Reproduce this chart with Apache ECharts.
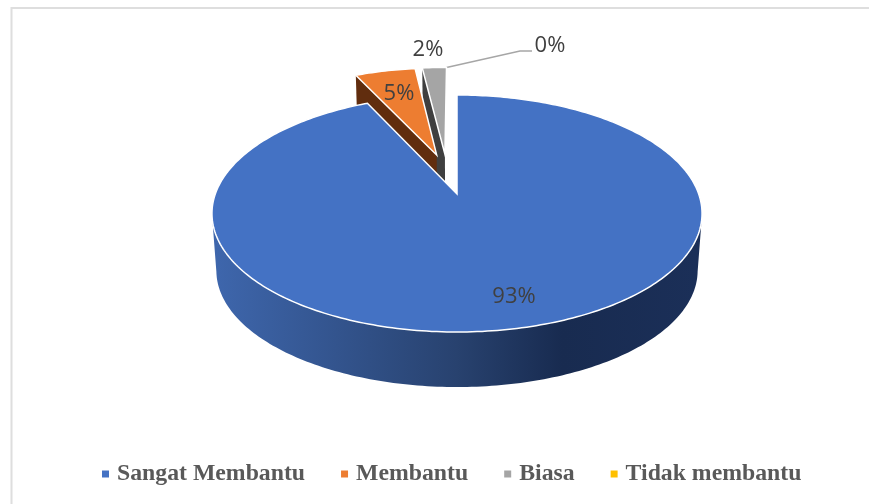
<!DOCTYPE html>
<html>
<head>
<meta charset="utf-8">
<style>
  html, body { margin: 0; padding: 0; background: #fff; }
  #chart { width: 869px; height: 504px; }
</style>
<script src="https://cdn.jsdelivr.net/npm/echarts@6/dist/echarts.min.js"></script>
</head>
<body>
<div id="chart"></div>
<script>
const categories = ['Sangat Membantu', 'Membantu', 'Biasa', 'Tidak membantu'];
const shares = [93, 5, 2, 0];

const faceColors = ['#4472c4', '#ed7d31', '#a5a5a5', '#ffc000'];
const cutColors = [null, '#612d0e', '#3f3f3f', null];
// how far each slice is pulled out, in disc units
const sliceOffsets = [[0, 0], [-0.089, 0.358], [-0.053, 0.365], [-0.053, 0.365]];
const sliceRadii = [1, 0.975, 0.975, 0.975];
const labelSpots = [[514, 297], [399, 94], [428, 50], [550, 46]];
const labelFont = '22px "Open Sans", sans-serif';

// perspective of the tilted disc, fitted on the picture
const view = { cx: 457, rx: 241.7, ry: 115.3, k: 0.1646, topY: 194, bottomY: 251.5, bottomScale: 0.982 };

const total = shares.reduce((a, b) => a + b, 0);

function project(u, v, isBottom) {
  const s = isBottom ? view.bottomScale : 1;
  const d = 1 + view.k * v;
  return [
    view.cx + s * view.rx * u / d,
    (isBottom ? view.bottomY : view.topY) - s * view.ry * v / d
  ];
}

function arcAngles(from, to) {
  const out = [];
  for (let a = from; a < to; a += 1) out.push(a);
  out.push(to);
  return out;
}

function onRim(deg, offset, radius) {
  const t = deg * Math.PI / 180;
  return [radius * Math.sin(t) + offset[0], radius * Math.cos(t) + offset[1]];
}

function renderSlice(index, api) {
  const share = api.value(0);
  const before = shares.slice(0, index).reduce((a, b) => a + b, 0);
  const start = before / total * 360;
  const end = (before + share) / total * 360;
  const offset = sliceOffsets[index];
  const radius = sliceRadii[index];
  const children = [];

  if (share > 0) {
    const rim = arcAngles(start, end).map(a => onRim(a, offset, radius));

    if (cutColors[index]) {
      const first = rim[0];
      children.push({
        type: 'polygon',
        shape: { points: [project(offset[0], offset[1], false), project(first[0], first[1], false), project(first[0], first[1], true), project(offset[0], offset[1], true)] },
        style: { fill: cutColors[index] }
      });
    }

    // round front wall, only the part that faces the viewer
    const front = rim.filter(p => p[1] - offset[1] < -view.k);
    if (front.length) {
      children.push({
        type: 'polygon',
        shape: { points: front.map(p => project(p[0], p[1], false)).concat(front.slice().reverse().map(p => project(p[0], p[1], true))) },
        style: {
          fill: {
            type: 'linear', x: 216, y: 0, x2: 697, y2: 0, global: true,
            colorStops: [
              { offset: 0, color: '#3e66ac' },
              { offset: 0.5, color: '#28426f' },
              { offset: 0.72, color: '#182b50' },
              { offset: 1, color: '#1b2f58' }
            ]
          }
        }
      });
    }

    children.push({
      type: 'polygon',
      shape: { points: [project(offset[0], offset[1], false)].concat(rim.map(p => project(p[0], p[1], false))) },
      style: { fill: faceColors[index], stroke: '#fff', lineWidth: 1.5 }
    });
  } else {
    // empty slice still gets its leader line
    const tip = project(offset[0], radius + offset[1], false);
    children.push({
      type: 'polyline',
      shape: { points: [tip, [520, 51], [532, 51]] },
      style: { fill: null, stroke: '#a6a6a6', lineWidth: 1.5 }
    });
  }

  children.push({
    type: 'text',
    style: {
      x: labelSpots[index][0],
      y: labelSpots[index][1],
      text: share + '%',
      fill: '#404040',
      font: labelFont,
      align: 'center',
      verticalAlign: 'middle'
    }
  });
  return { type: 'group', children };
}

const chart = echarts.init(document.getElementById('chart'));
chart.setOption({
  backgroundColor: '#fff',
  animation: false,
  graphic: [
    { type: 'line', shape: { x1: 11, y1: 8, x2: 869, y2: 8 }, style: { stroke: '#dedede', lineWidth: 2 } },
    { type: 'line', shape: { x1: 11.5, y1: 7, x2: 11.5, y2: 504 }, style: { stroke: '#dedede', lineWidth: 2 } }
  ],
  legend: {
    data: categories,
    left: 97,
    top: 457,
    itemWidth: 7,
    itemHeight: 7,
    itemGap: 36,
    icon: 'rect',
    selectedMode: false,
    textStyle: {
      fontFamily: '"Liberation Serif", serif',
      fontWeight: 'bold',
      fontSize: 23.75,
      color: '#595959',
      padding: [0, 0, 0, 3]
    }
  },
  series: categories.map((name, i) => ({
    type: 'custom',
    name,
    coordinateSystem: 'none',
    z: 10 - i,
    silent: true,
    clip: false,
    itemStyle: { color: faceColors[i] },
    data: [[shares[i]]],
    renderItem: (params, api) => renderSlice(i, api)
  }))
});
</script>
</body>
</html>
